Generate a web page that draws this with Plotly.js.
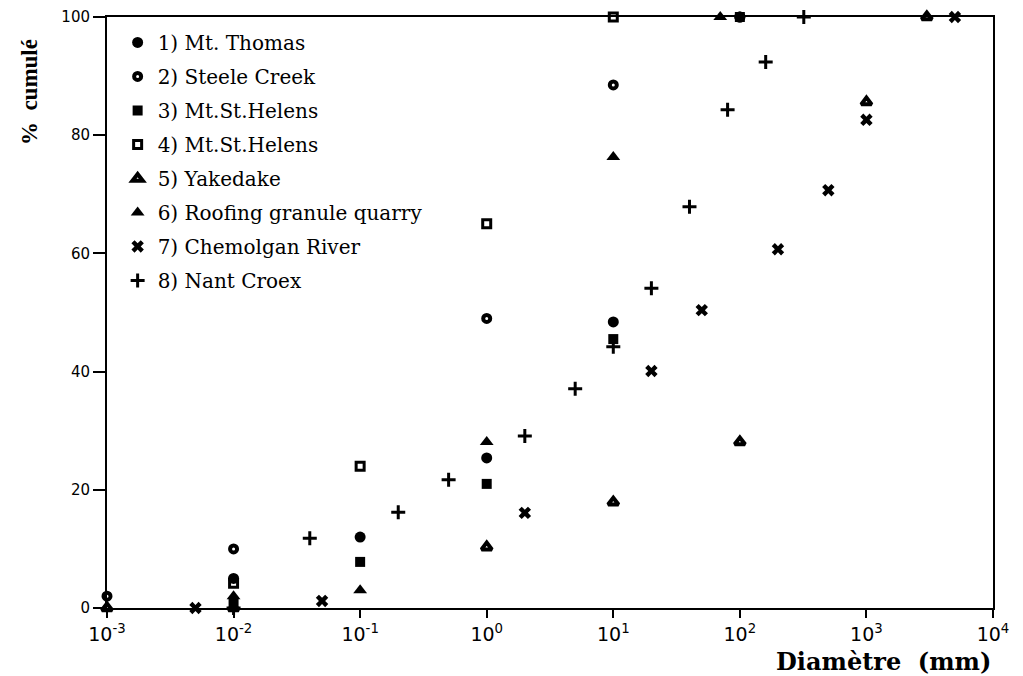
<!DOCTYPE html>
<html>
<head>
<meta charset="utf-8">
<script src="https://cdn.plot.ly/plotly-3.0.1.min.js"></script>
<style>html,body{margin:0;padding:0;background:#fff;}#chart{width:1023px;height:676px;}</style>
</head>
<body>
<div id="chart"></div>
<script>
// Series names
const seriesNames = ["1) Mt. Thomas", "2) Steele Creek", "3) Mt.St.Helens", "4) Mt.St.Helens",
  "5) Yakedake", "6) Roofing granule quarry", "7) Chemolgan River", "8) Nant Croex"];

// Diameter (mm) and cumulative % for each series
const mtThomasX = [0.01, 0.1, 1, 10, 100];
const mtThomasY = [5, 12, 25.4, 48.4, 100];

const steeleX = [0.001, 0.01, 1, 10, 100];
const steeleY = [2, 10, 49, 88.5, 100];

const helens3X = [0.01, 0.1, 1, 10, 100];
const helens3Y = [1, 7.8, 21, 45.5, 100];

const helens4X = [0.01, 0.1, 1, 10];
const helens4Y = [4.2, 24, 65, 100];

const yakedakeX = [0.001, 0.01, 1, 10, 100, 1000, 3000];
const yakedakeY = [0, 0, 10.3, 17.9, 28.1, 85.6, 100];

const roofingX = [0.01, 0.1, 1, 10, 70];
const roofingY = [2, 3, 28.1, 76.3, 100];

const chemolganX = [0.005, 0.05, 2, 20, 50, 200, 500, 1000, 5000];
const chemolganY = [0, 1.2, 16.1, 40.1, 50.4, 60.7, 70.7, 82.6, 100];

const nantX = [0.01, 0.04, 0.2, 0.5, 2, 5, 10, 20, 40, 80, 160, 320];
const nantY = [0, 11.8, 16.2, 21.7, 29.1, 37.1, 44.2, 54.1, 67.9, 84.3, 92.4, 100];

const xTickVals = [0.001, 0.01, 0.1, 1, 10, 100, 1000, 10000];
const xTickText = ["10<sup>-3</sup>", "10<sup>-2</sup>", "10<sup>-1</sup>", "10<sup>0</sup>",
  "10<sup>1</sup>", "10<sup>2</sup>", "10<sup>3</sup>", "10<sup>4</sup>"];
const yTickVals = [0, 20, 40, 60, 80, 100];

const xs = [mtThomasX, steeleX, helens3X, helens4X, yakedakeX, roofingX, chemolganX, nantX];
const ys = [mtThomasY, steeleY, helens3Y, helens4Y, yakedakeY, roofingY, chemolganY, nantY];
const markers = [
  {symbol: "circle", size: 11, color: "#000"},
  {symbol: "circle-open", size: 7, color: "#000", line: {width: 4, color: "#000"}},
  {symbol: "square", size: 10, color: "#000"},
  {symbol: "square-open", size: 8, color: "#000", line: {width: 3, color: "#000"}},
  {symbol: "triangle-up-open", size: 9, color: "#000", line: {width: 4, color: "#000"}},
  {symbol: "triangle-up", size: 12, color: "#000"},
  {symbol: "x", size: 11, color: "#000", line: {width: 0}},
  {symbol: "cross-thin", size: 10, color: "#000", line: {width: 3, color: "#000"}}
];

const traces = seriesNames.map((name, i) => ({
  type: "scatter", mode: "markers", name: name,
  x: xs[i], y: ys[i], marker: markers[i], cliponaxis: false,
  legendgroup: "g" + i
}));

const layout = {
  width: 1023, height: 676,
  margin: {l: 107, r: 30, t: 17, b: 68},
  paper_bgcolor: "#fff", plot_bgcolor: "#fff",
  showlegend: true,
  legend: {
    x: 0.012, y: 0.99, xanchor: "left", yanchor: "top",
    bgcolor: "rgba(0,0,0,0)", traceorder: "grouped", tracegroupgap: 5,
    font: {family: "DejaVu Serif, serif", size: 20, color: "#000"},
    itemwidth: 30
  },
  xaxis: {
    type: "log", range: [-3, 4],
    tickvals: xTickVals, ticktext: xTickText,
    ticks: "outside", ticklen: 8, tickwidth: 2, tickcolor: "#000",
    showline: true, linewidth: 2, linecolor: "#000", mirror: true,
    showgrid: false, zeroline: false,
    tickfont: {family: "DejaVu Sans, sans-serif", size: 19, color: "#000"}
  },
  yaxis: {
    range: [0, 100],
    tickvals: yTickVals,
    ticks: "outside", ticklen: 12, tickwidth: 2, tickcolor: "#000",
    showline: true, linewidth: 2, linecolor: "#000", mirror: true,
    showgrid: false, zeroline: false,
    tickfont: {family: "DejaVu Sans, sans-serif", size: 15, color: "#000"}
  },
  annotations: [
    {text: "Diamètre  (mm)", xref: "paper", yref: "paper", x: 1.0, y: -0.091,
     xanchor: "right", yanchor: "middle", showarrow: false,
     font: {family: "DejaVu Serif, serif", size: 24, color: "#000", weight: "bold"}},
    {text: "%  cumulé", xref: "paper", yref: "paper", x: -0.088, y: 0.873,
     xanchor: "center", yanchor: "middle", textangle: -90, showarrow: false,
     font: {family: "Liberation Serif, Times New Roman, serif", size: 23, color: "#000", weight: "bold"}}
  ]
};

Plotly.newPlot("chart", traces, layout, {displayModeBar: false, staticPlot: true});
</script>
</body>
</html>
